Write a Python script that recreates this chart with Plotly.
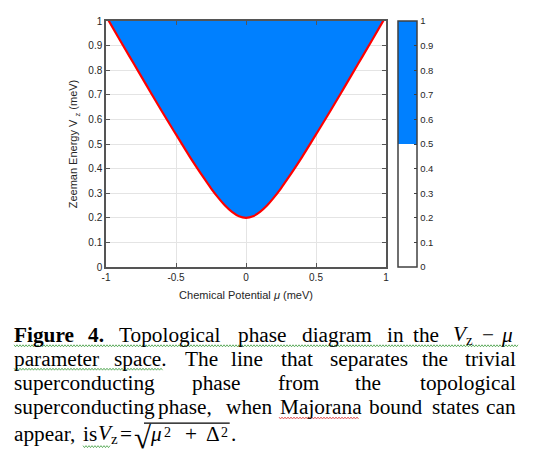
import plotly.graph_objects as go

# ---------------- data ----------------
mu = [-1.0, -0.9, -0.8, -0.7, -0.6, -0.5, -0.4, -0.3, -0.25, -0.2, -0.15, -0.1, -0.05,
      0.0, 0.05, 0.1, 0.15, 0.2, 0.25, 0.3, 0.4, 0.5, 0.6, 0.7, 0.8, 0.9, 1.0]
vz = [1.020, 0.922, 0.825, 0.728, 0.632, 0.539, 0.447, 0.361, 0.320, 0.283, 0.250, 0.224, 0.206,
      0.200, 0.206, 0.224, 0.250, 0.283, 0.320, 0.361, 0.447, 0.539, 0.632, 0.728, 0.825, 0.922, 1.020]
x_tickvals = [-1, -0.5, 0, 0.5, 1]
x_ticktext = ["-1", "-0.5", "0", "0.5", "1"]
y_tickvals = [0, 0.1, 0.2, 0.3, 0.4, 0.5, 0.6, 0.7, 0.8, 0.9, 1]
y_ticktext = ["0", "0.1", "0.2", "0.3", "0.4", "0.5", "0.6", "0.7", "0.8", "0.9", "1"]
cbar_range = [0, 1]

BLUE = "#0080FF"
OFF = 8                       # page body margin
W, H = 535 - OFF, 469 - OFF
L, R, T, B = 106, 386, 15, 267   # plot area in window pixels


def px(x):
    return (x - L) / (R - L)


def py(y):
    return (B - y) / (B - T)


fig = go.Figure()

fig.add_trace(go.Scatter(x=mu, y=[1.2] * len(mu), mode="lines",
                         line=dict(width=0, color=BLUE), hoverinfo="skip", showlegend=False))
fig.add_trace(go.Scatter(x=mu, y=vz, mode="lines", fill="tonexty", fillcolor=BLUE,
                         line=dict(color="#FF0000", width=2.2, shape="spline", smoothing=1),
                         showlegend=False))
fig.add_trace(go.Scatter(x=[0, 0], y=[-5, -5], mode="markers", showlegend=False,
                         hoverinfo="skip",
                         marker=dict(size=1, color=cbar_range, cmin=0, cmax=1,
                                     colorscale=[[0, "white"], [0.5, "white"], [0.5, BLUE], [1, BLUE]],
                                     showscale=True,
                                     colorbar=dict(x=px(398), xanchor="left", xpad=0, ypad=0,
                                                   y=0.5, yanchor="middle", len=1, lenmode="fraction",
                                                   thickness=19, thicknessmode="pixels",
                                                   outlinewidth=1.5, outlinecolor="#404040",
                                                   ticks="inside", ticklen=3, tickcolor="#404040",
                                                   tickvals=y_tickvals, ticktext=y_ticktext,
                                                   tickfont=dict(family="Liberation Sans", size=9.5, color="#262626")))))

axis_common = dict(showgrid=True, gridcolor="#e4e4e4", gridwidth=1, zeroline=False,
                   showline=True, linecolor="#555555", linewidth=1.5, mirror="ticks",
                   ticks="inside", ticklen=4, tickcolor="#555555",
                   tickfont=dict(family="Liberation Sans", size=10, color="#262626"))

fig.update_xaxes(range=[-1, 1], tickvals=x_tickvals, ticktext=x_ticktext,
                 title=dict(text="Chemical Potential <i>μ</i> (meV)", standoff=10,
                            font=dict(family="Liberation Sans", size=11, color="#262626")),
                 **axis_common)
fig.update_yaxes(range=[0, 1], tickvals=y_tickvals, ticktext=y_ticktext,
                 title=dict(text="Zeeman Energy V <sub>z</sub> (meV)", standoff=8,
                            font=dict(family="Liberation Sans", size=11, color="#262626")),
                 **axis_common)

# ---------------- caption ----------------
SERIF = "Liberation Serif"
FS = 21.3
baselines = [343, 368, 392.5, 417, 445]
caption_words = [
    [(14, "<b>Figure</b>"), (87.7, "<b>4.</b>"), (119.3, "Topological"), (238, "phase"),
     (302, "diagram"), (386.7, "in"), (413.3, "the"), (453, "<i>V</i><sub>z</sub>"), (482, "−"),
     (501, "<i>μ</i>")],
    [(14, "parameter"), (114.3, "space."), (185.3, "The"), (231.3, "line"), (281.3, "that"),
     (329.7, "separates"), (421.7, "the"), (465, "trivial")],
    [(14, "superconducting"), (192, "phase"), (278, "from"), (355, "the"), (420, "topological")],
    [(14, "superconducting"), (157.5, "phase,"), (225.5, "when"), (279.5, "Majorana"), (368.5, "bound"),
     (432, "states"), (486, "can")],
    [(14, "appear,"), (83, "is"), (98, "<i>V</i><sub>z</sub>"), (120, "="),
     (150, "<i>μ</i>"), (185, "+"), (206.3, "Δ"), (231.3, ".")],
]
annotations = []


def add_text(x0, base, text, size=FS):
    annotations.append(dict(x=px(x0 - 1), y=py(base - 0.31 * size), xref="paper", yref="paper",
                            xanchor="left", yanchor="middle", text=text, showarrow=False,
                            borderpad=0, font=dict(family=SERIF, size=size, color="black")))


for line, base in zip(caption_words, baselines):
    for x0, word in line:
        add_text(x0, base, word)

# radical sign and superscripts of the formula
add_text(134, 451, "√", 31)
add_text(164, 441, "2", 14)
add_text(221, 441, "2", 14)

shapes = []
shapes.append(dict(type="line", xref="paper", yref="paper", x0=px(144), x1=px(229.7),
                   y0=py(427), y1=py(427), line=dict(color="black", width=1.2)))


def squiggle(x0, x1, y, color):
    pts = []
    x = x0
    up = True
    while x <= x1:
        pts.append((x, y - 1 if up else y + 1))
        up = not up
        x += 1.5
    path = "M " + " L ".join(f"{px(a):.5f},{py(b):.5f}" for a, b in pts)
    return dict(type="path", xref="paper", yref="paper", path=path,
                line=dict(color=color, width=0.8))


shapes.append(squiggle(14, 519, 347.7, "#3c9a3c"))
shapes.append(squiggle(14, 163, 371.7, "#3c9a3c"))
shapes.append(squiggle(83, 110, 451, "#3c9a3c"))
shapes.append(squiggle(279, 359, 421.7, "#e04040"))

fig.update_layout(annotations=annotations, shapes=shapes, width=W, height=H,
                  margin=dict(l=L - OFF, r=W - (R - OFF), t=T - OFF, b=H - (B - OFF)),
                  paper_bgcolor="white", plot_bgcolor="white", showlegend=False)

fig.write_html("out.html")
